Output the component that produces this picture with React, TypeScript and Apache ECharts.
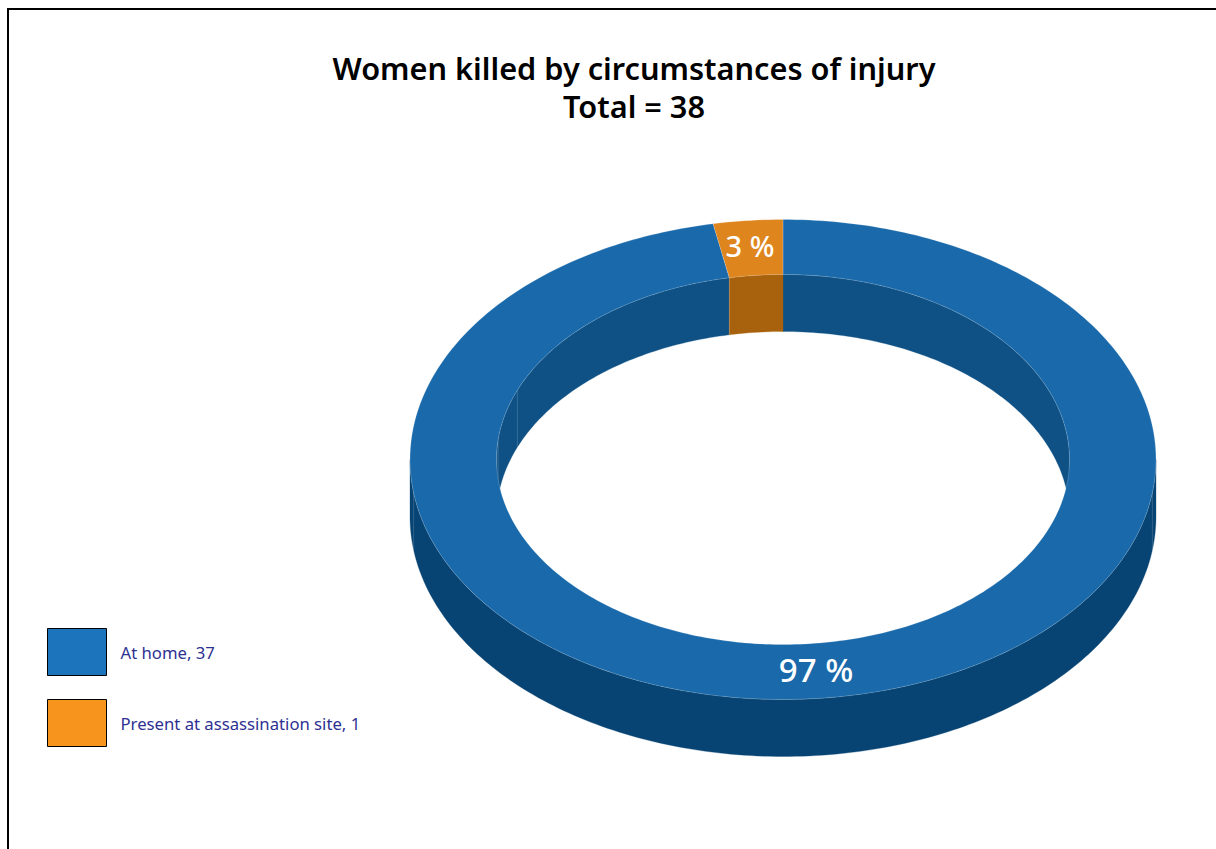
import React, { useEffect, useRef } from "react";
import * as echarts from "echarts";

const titleLines = ["Women killed by circumstances of injury", "Total = 38"];
const categories = ["At home", "Present at assassination site"];
const counts = [37, 1];
const percents = [97, 3];
const topColors = ["#1a6aab", "#de851e"];
const outerWallColors = ["#074473", "#a8620d"];
const innerWallColors = ["#0f5185", "#a8620d"];
const legendColors = ["#1c75bc", "#f7941d"];
const FONT = "'Noto Sans', sans-serif";

const cx = 783, cy = 459.5, rxO = 373, ryO = 240, rxI = 286.5, ryI = 185, depth = 57;
const innerSeams = [292, 276];
const outerSeams = [98, 262];
const RAD = Math.PI / 180;
const pt = (rx: number, ry: number, deg: number, dy = 0) => [
  cx + rx * Math.sin(deg * RAD),
  cy - ry * Math.cos(deg * RAD) + dy,
];
const arc = (rx: number, ry: number, a0: number, a1: number, dy = 0) => {
  const n = Math.max(2, Math.ceil(Math.abs(a1 - a0) / 1));
  const out: number[][] = [];
  for (let i = 0; i <= n; i++) out.push(pt(rx, ry, a0 + ((a1 - a0) * i) / n, dy));
  return out;
};
const strip = (rx: number, ry: number, a0: number, a1: number, fill: string) => ({
  type: "polygon",
  shape: { points: [...arc(rx, ry, a0, a1), ...arc(rx, ry, a1, a0, depth)] },
  style: { fill, stroke: fill, lineWidth: 0.3 },
});
const seam = (rx: number, ry: number, deg: number) => {
  const [x1, y1] = pt(rx, ry, deg);
  const [x2, y2] = pt(rx, ry, deg, depth);
  return {
    type: "line",
    shape: { x1, y1, x2, y2 },
    style: { stroke: "rgba(255,255,255,0.28)", lineWidth: 0.6 },
  };
};
const clip = (a0: number, a1: number, lo: number, hi: number) => {
  const s = Math.max(a0, lo), e = Math.min(a1, hi);
  return e > s ? [[s, e]] : [];
};

function sliceRender(index: number) {
  return (_params: any, api: any) => {
    const start = percents.slice(0, index).reduce((a, b) => a + b, 0) * 3.6;
    const end = start + api.value(0) * 3.6;
    const mid = (start + end) / 2;
    const children: any[] = [];
    clip(start, end, 90, 270).forEach(([s, e]) =>
      children.push(strip(rxO, ryO, s, e, outerWallColors[index]))
    );
    [...clip(start, end, 0, 90), ...clip(start, end, 270, 360)].forEach(([s, e]) =>
      children.push(strip(rxI, ryI, s, e, innerWallColors[index]))
    );
    if (index === 0) {
      innerSeams.forEach((d) => children.push(seam(rxI, ryI, d)));
      outerSeams.forEach((d) => children.push(seam(rxO, ryO, d)));
    } else {
      children.push(seam(rxI, ryI, start));
    }
    children.push({
      type: "polygon",
      shape: { points: [...arc(rxO, ryO, start, end), ...arc(rxI, ryI, end, start)] },
      style: { fill: topColors[index], stroke: "rgba(255,255,255,0.35)", lineWidth: 0.5 },
    });
    const [tx, ty] = pt((rxO + rxI) / 2, (ryO + ryI) / 2, mid);
    children.push({
      type: "text",
      style: {
        x: tx + (index === 0 ? 2 : -2),
        y: ty - 2,
        text: `${percents[index]} %`,
        fill: "#ffffff",
        font: `500 ${index === 0 ? 33 : 29}px ${FONT}`,
        textAlign: "center",
        textVerticalAlign: "middle",
      },
    });
    return { type: "group", children };
  };
}

export default function App() {
  const ref = useRef<HTMLDivElement>(null);
  useEffect(() => {
    const chart = echarts.init(ref.current!, undefined, { renderer: "svg" });
    const names = categories.map((c, i) => `${c}, ${counts[i]}`);
    chart.setOption({
      animation: false,
      title: {
        text: titleLines.join("\n"),
        left: 629,
        top: 44,
        textAlign: "center",
        textStyle: { fontFamily: FONT, fontWeight: 600, fontSize: 30.7, lineHeight: 38, color: "#000" },
      },
      legend: {
        orient: "vertical",
        left: 42,
        top: 623,
        itemWidth: 59,
        itemHeight: 47,
        itemGap: 23,
        icon: "rect",
        selectedMode: false,
        textStyle: { fontFamily: FONT, fontSize: 16.7, color: "#2e3192", padding: [1, 0, 0, 9] },
        data: names.map((name, i) => ({
          name,
          itemStyle: { color: legendColors[i], borderColor: "#000", borderWidth: 1 },
        })),
      },
      series: names.map((name, i) => ({
        type: "custom",
        name,
        coordinateSystem: "none",
        silent: true,
        itemStyle: { color: legendColors[i] },
        renderItem: sliceRender(i),
        data: [[percents[i]]],
      })),
    });
    return () => chart.dispose();
  }, []);
  return (
    <div style={{ position: "fixed", left: 0, top: 0, width: 1216, height: 849, overflow: "hidden", background: "#fff" }}>
      <div style={{ position: "absolute", left: 7, top: 8, width: 1400, height: 1000, border: "2px solid #000" }} />
      <div ref={ref} style={{ position: "absolute", left: 0, top: 0, width: 1216, height: 849 }} />
    </div>
  );
}
